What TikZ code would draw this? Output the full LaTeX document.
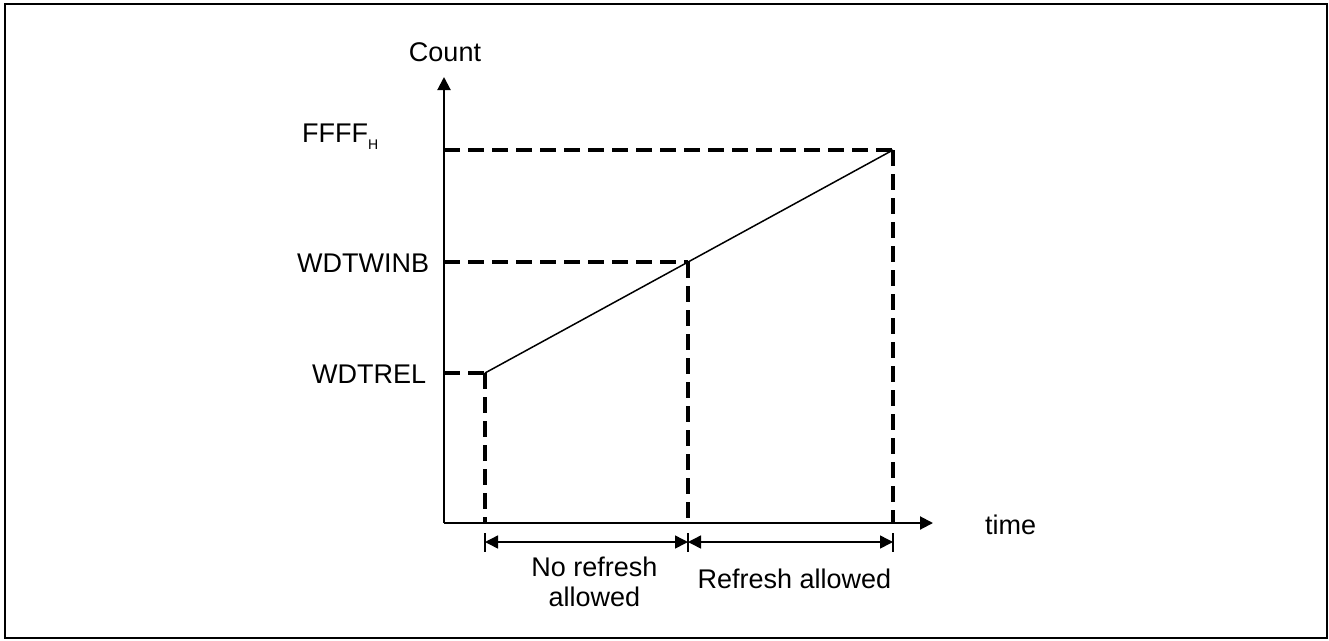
\documentclass[tikz,border=0pt]{standalone}
\usepackage{fontspec}
\setmainfont{Liberation Sans}
\usetikzlibrary{arrows.meta}

\begin{document}
\begin{tikzpicture}[x=1pt,y=-1pt,>={Triangle[length=13pt,width=13pt]},
  level/.style={line width=3.5pt,dash pattern=on 16pt off 8pt},
  lbl/.style={font=\fontsize{27}{30}\selectfont,inner sep=0pt}]
\useasboundingbox (0,0) rectangle (1329,640);
\draw[line width=2pt] (5,4) rectangle (1327,638);
% axes
\coordinate (O) at (444,523);
\coordinate (ytip) at (444,77);
\coordinate (xtip) at (933,523);
\draw[line width=2pt,->] (O) -- (ytip);
\draw[line width=2pt,->] (O) -- (xtip);
\node[lbl,anchor=base] (count) at (445,61) {Count};
\node[lbl,anchor=base west] (time) at (985,534) {time};
% counter ramp
\coordinate (rel) at (485,373);
\coordinate (win) at (688,262);
\coordinate (top) at (893,150);
\draw[line width=1.5pt] (rel) -- (top);
\draw[level] (O |- rel) -- (rel);
\draw[level] (O |- win) -- (win);
\draw[level] (O |- top) -- (top);
\draw[level] (rel) -- (rel |- O);
\draw[level] (win) -- (win |- O);
\draw[level] (top) -- (top |- O);
\node[lbl,anchor=base west] (ffff) at (302,142) {FFFF\raisebox{-7pt}{\fontsize{14}{14}\selectfont H}};
\node[lbl,anchor=base west] (winb) at (297,272) {WDTWINB};
\node[lbl,anchor=base west] (wrel) at (312,383) {WDTREL};
% windows
\coordinate (d1) at (485,542);
\coordinate (d2) at (688,542);
\coordinate (d3) at (893,542);
\foreach \d in {d1,d2,d3}
  \draw[line width=1.2pt] (\d) +(0,-9) -- +(0,10);
\draw[line width=1.5pt,<->] (d1) -- (d2) node[lbl,midway,below=14pt,xshift=8pt,align=center]{No refresh\\allowed};
\draw[line width=1.5pt,<->] (d2) -- (d3) node[lbl,midway,below=26pt,xshift=4pt]{Refresh allowed};
\end{tikzpicture}
\end{document}
